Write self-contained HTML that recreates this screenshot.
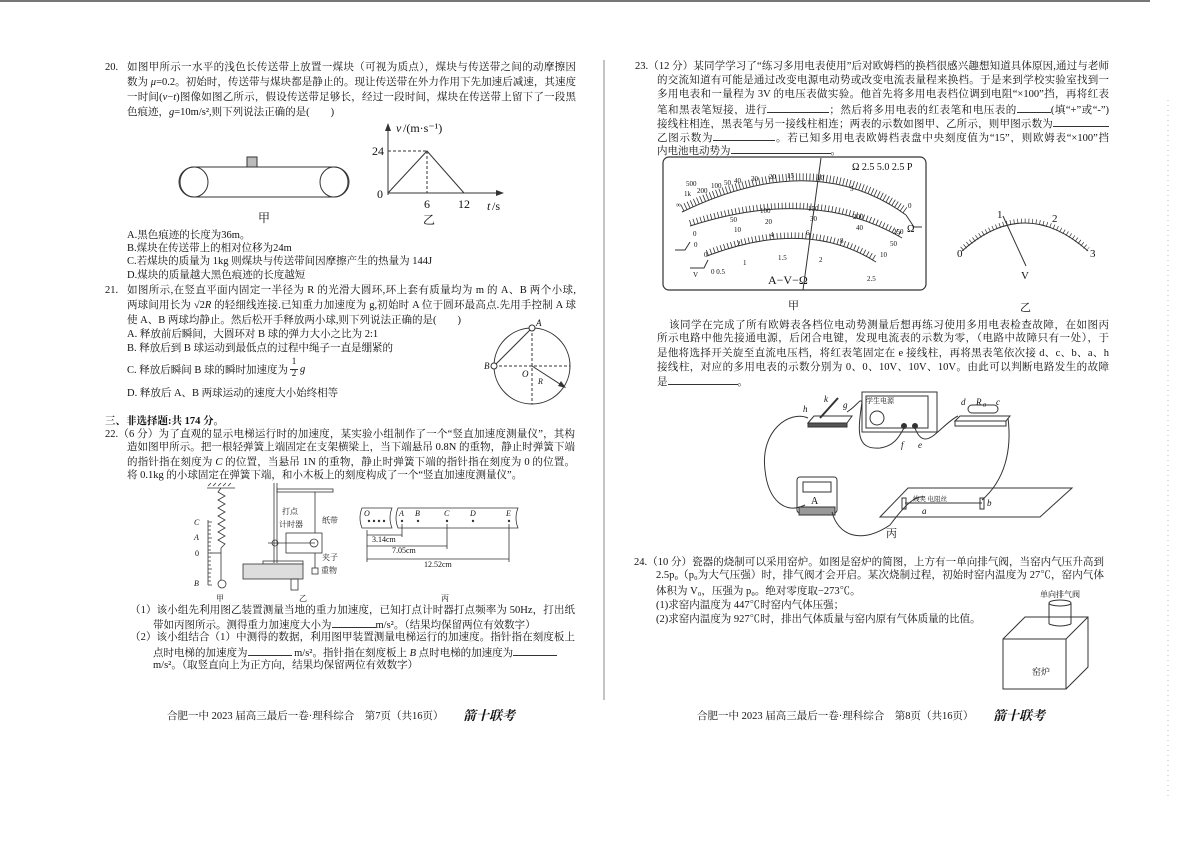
<!DOCTYPE html>
<html><head><meta charset="utf-8">
<style>
html,body{margin:0;padding:0;background:#fff;}
body{width:1200px;height:849px;position:relative;overflow:hidden;font-family:"Liberation Serif","Noto Serif CJK SC","Noto Sans CJK SC",serif;color:#111;}
.l{position:absolute;font-size:10.5px;line-height:13px;height:13px;white-space:nowrap;}
.j{text-align:justify;text-align-last:justify;white-space:normal;overflow:hidden;}
.u{display:inline-block;border-bottom:1px solid #333;height:10px;vertical-align:baseline;}
svg{position:absolute;left:0;top:0;}
svg text{font-family:"Liberation Serif","Noto Serif CJK SC",serif;fill:#111;}
.b{font-weight:bold;}
.ft{font-family:"Liberation Serif","Noto Serif CJK SC",serif;font-weight:bold;font-style:italic;font-size:13px;}
</style></head><body>

<svg width="1200" height="849" viewBox="0 0 1200 849">
<line x1="0" y1="1" x2="1150" y2="1" stroke="#777" stroke-width="2"/>
<line x1="604" y1="60" x2="604" y2="700" stroke="#888" stroke-width="1"/>
<line x1="1168" y1="100" x2="1168" y2="800" stroke="#bbb" stroke-width="1" stroke-dasharray="1 4"/>

<!-- Q20 belt -->
<g fill="none" stroke="#333" stroke-width="1">
<ellipse cx="194" cy="182" rx="14" ry="15"/>
<ellipse cx="334" cy="182" rx="14" ry="15"/>
<line x1="194" y1="167" x2="334" y2="167"/>
<line x1="194" y1="197" x2="334" y2="197"/>
<path d="M194 167 A15 15 0 0 0 194 197"/>
<path d="M334 167 A15 15 0 0 1 334 197"/>
</g>
<rect x="247" y="157" width="10" height="10" fill="#bbb" stroke="#333"/>
<text x="258" y="222" font-size="12">甲</text>
<g stroke="#333" fill="none" stroke-width="1">
<line x1="388" y1="195" x2="388" y2="127"/>
<line x1="388" y1="193" x2="500" y2="193"/>
<polyline points="388,193 427,151 464,193"/>
<line x1="388" y1="151" x2="427" y2="151" stroke-dasharray="3 2"/>
<line x1="427" y1="151" x2="427" y2="193" stroke-dasharray="3 2"/>
</g>
<polygon points="388,123 385,131 391,131" fill="#333"/>
<polygon points="504,193 496,190 496,196" fill="#333"/>
<text x="396" y="132" font-size="12" font-style="italic">v</text><text x="403" y="132" font-size="12">/(m·s⁻¹)</text>
<text x="372" y="155" font-size="12">24</text>
<text x="377" y="198" font-size="12">0</text>
<text x="424" y="208" font-size="12">6</text>
<text x="458" y="208" font-size="12">12</text>
<text x="487" y="210" font-size="12" font-style="italic">t</text><text x="492" y="210" font-size="12">/s</text>
<text x="423" y="224" font-size="12">乙</text>

<!-- Q21 circle -->
<g stroke="#333" fill="none" stroke-width="1">
<circle cx="532" cy="366" r="38"/>
<line x1="532" y1="328" x2="532" y2="404" stroke-dasharray="3 2"/>
<line x1="494" y1="366" x2="570" y2="366" stroke-dasharray="3 2"/>
<line x1="532" y1="328" x2="494" y2="366"/>
<line x1="532" y1="366" x2="563" y2="386"/>
</g>
<circle cx="532" cy="328" r="3" fill="#fff" stroke="#333"/>
<circle cx="494" cy="366" r="3" fill="#fff" stroke="#333"/>
<polygon points="566,388 558,386 561,381" fill="#333"/>
<text x="536" y="326" font-size="9" font-style="italic">A</text>
<text x="484" y="369" font-size="9" font-style="italic">B</text>
<text x="522" y="377" font-size="9" font-style="italic">O</text>
<text x="538" y="384" font-size="8" font-style="italic">R</text>

<!-- Q22 figures -->
<g stroke="#333" fill="none" stroke-width="0.8">
<line x1="207" y1="488" x2="235" y2="488"/>
<path d="M208 486 l3 -3 M213 486 l3 -3 M218 486 l3 -3 M223 486 l3 -3 M228 486 l3 -3"/>
<polyline points="221,488 218,492 225,496 218,500 225,504 218,508 225,512 218,516 225,520 218,524 225,528 218,532 225,536 218,540 225,544 221,548 221,580"/>
<line x1="208" y1="520" x2="208" y2="585"/>
<path d="M208 522 h4 M208 526 h3 M208 530 h3 M208 534 h3 M208 538 h4 M208 542 h3 M208 546 h3 M208 550 h3 M208 553 h4 M208 557 h3 M208 561 h3 M208 565 h3 M208 569 h4 M208 573 h3 M208 577 h3 M208 581 h3 M208 585 h4"/>
<line x1="221" y1="553" x2="210" y2="553"/>
<circle cx="222" cy="584" r="4"/>
<line x1="274" y1="483" x2="274" y2="563"/><line x1="277" y1="483" x2="277" y2="563"/>
<rect x="277" y="489" width="56" height="3"/>
<line x1="315" y1="492" x2="315" y2="533"/>
<rect x="286" y="533" width="36" height="20"/>
<line x1="268" y1="543" x2="315" y2="543"/>
<circle cx="275" cy="543" r="3"/>
<circle cx="314" cy="543" r="4"/>
<line x1="315" y1="553" x2="315" y2="568"/>
<rect x="312" y="568" width="6" height="6"/>
<rect x="263" y="561" width="40" height="3"/>
<rect x="243" y="564" width="60" height="15" fill="#ddd"/>
<rect x="291" y="579" width="7" height="11"/>
<path d="M362 508 h30 q-4 10 0 20 h-30 q-4 -10 0 -20z"/>
<path d="M398 508 h120 q-4 10 0 20 h-120 q-4 -10 0 -20z"/>
<line x1="367" y1="530" x2="367" y2="562"/>
<line x1="402" y1="524" x2="402" y2="537"/>
<line x1="447" y1="524" x2="447" y2="549"/>
<line x1="509" y1="524" x2="509" y2="562"/>
<line x1="367" y1="535" x2="402" y2="535"/>
<line x1="367" y1="546" x2="447" y2="546"/>
<line x1="367" y1="559" x2="509" y2="559"/>
</g>
<g fill="#333">
<circle cx="369" cy="521" r="1.2"/><circle cx="374" cy="521" r="1.2"/><circle cx="379" cy="521" r="1.2"/><circle cx="384" cy="521" r="1.2"/>
<circle cx="402" cy="521" r="1.2"/><circle cx="418" cy="521" r="1.2"/><circle cx="447" cy="521" r="1.2"/><circle cx="473" cy="521" r="1.2"/><circle cx="509" cy="521" r="1.2"/>
</g>
<g font-size="8" font-style="italic">
<text x="194" y="525">C</text><text x="194" y="540">A</text><text x="195" y="556" font-style="normal">0</text><text x="194" y="586">B</text>
<text x="364" y="516">O</text><text x="399" y="516">A</text><text x="415" y="516">B</text><text x="444" y="516">C</text><text x="470" y="516">D</text><text x="506" y="516">E</text>
</g>
<g font-size="8">
<text x="282" y="514">打点</text><text x="279" y="527">计时器</text><text x="322" y="523">纸带</text><text x="322" y="560">夹子</text><text x="321" y="573">重物</text>
<text x="372" y="542">3.14cm</text><text x="392" y="553">7.05cm</text><text x="424" y="567">12.52cm</text>
<text x="216" y="601">甲</text><text x="299" y="601">乙</text><text x="441" y="601">丙</text>
</g>

<!-- Q23 meter 甲 -->
<rect x="663" y="157" width="263" height="133" rx="6" fill="none" stroke="#333" stroke-width="1.2"/>
<g fill="none" stroke="#333">
<path d="M682 212 Q814 148 906 215" stroke-width="1"/>
<path d="M682 212 Q814 148 906 215" stroke-width="7" stroke-dasharray="0.8 2.6" transform="translate(0,-4)"/>
<path d="M690 226 Q814 186 902 238" stroke-width="1"/>
<path d="M690 226 Q814 186 902 238" stroke-width="6" stroke-dasharray="0.8 2.8" transform="translate(0,-3)"/>
<path d="M707 256 Q807 218 876 262" stroke-width="1"/>
<path d="M707 256 Q807 218 876 262" stroke-width="6" stroke-dasharray="0.8 2.8" transform="translate(0,-3)"/>
<line x1="803" y1="290" x2="821" y2="158" stroke-width="1"/>
<path d="M675 250 h10 l5 -8" stroke-width="1"/>
<path d="M690 268 h14 l4 -8" stroke-width="1"/>
<path d="M906 215 l8 12 h8"/>
</g>
<g font-size="7">
<text x="676" y="207">∞</text><text x="684" y="196">1k</text><text x="686" y="186">500</text><text x="697" y="193">200</text><text x="711" y="188">100</text><text x="724" y="185">50</text><text x="734" y="183">40</text><text x="751" y="181">30</text><text x="769" y="179">20</text><text x="787" y="178">15</text><text x="817" y="180">10</text><text x="850" y="191">5</text><text x="908" y="208">0</text>
<text x="693" y="236">0</text><text x="730" y="222">50</text><text x="760" y="213">100</text><text x="808" y="211">150</text><text x="853" y="219">200</text><text x="893" y="234">250</text>
<text x="694" y="247">0</text><text x="734" y="232">10</text><text x="765" y="224">20</text><text x="810" y="221">30</text><text x="856" y="230">40</text><text x="890" y="246">50</text>
<text x="704" y="257">0</text><text x="737" y="246">2</text><text x="770" y="237">4</text><text x="806" y="235">6</text><text x="840" y="243">8</text><text x="880" y="257">10</text>
<text x="711" y="274">0 0.5</text><text x="743" y="265">1</text><text x="778" y="260">1.5</text><text x="819" y="262">2</text><text x="867" y="281">2.5</text>
<text x="693" y="277">V</text>
</g>
<text x="852" y="170" font-size="10">Ω 2.5 5.0 2.5 P</text>
<text x="907" y="232" font-size="10">Ω</text>
<text x="768" y="284" font-size="12">A−V−Ω</text>
<text x="788" y="309" font-size="11">甲</text>
<!-- meter 乙 -->
<path d="M962 251 Q1025 195 1088 251" fill="none" stroke="#333"/>
<path d="M962 251 Q1025 195 1088 251" fill="none" stroke="#333" stroke-width="5" stroke-dasharray="0.7 3" transform="translate(0,-2)"/>
<line x1="1003" y1="216" x2="1026" y2="266" stroke="#333"/>
<text x="957" y="257" font-size="11">0</text><text x="997" y="218" font-size="11">1</text><text x="1052" y="222" font-size="11">2</text><text x="1090" y="257" font-size="11">3</text>
<text x="1021" y="279" font-size="11">V</text>
<text x="1020" y="311" font-size="11">乙</text>

<!-- circuit 丙 -->
<g fill="none" stroke="#333" stroke-width="1">
<path d="M808 423 l6 -7 h38 l-5 7z"/>
<rect x="808" y="423" width="39" height="4" fill="#555"/>
<line x1="820" y1="418" x2="838" y2="398" stroke-width="2"/>
<rect x="862" y="392" width="75" height="40"/>
<rect x="866" y="396" width="62" height="32"/>
<circle cx="877" cy="418" r="7"/>
<circle cx="904" cy="426" r="2.5" fill="#333"/><circle cx="915" cy="426" r="2.5" fill="#333"/>
<path d="M955 421 l5 -5 h50 l-4 5z"/>
<rect x="955" y="421" width="51" height="5"/>
<rect x="968" y="405" width="30" height="8" rx="4"/>
<rect x="797" y="477" width="40" height="36" rx="3"/>
<rect x="803" y="482" width="28" height="10"/>
<rect x="799" y="507" width="36" height="8" fill="#999"/>
<path d="M880 517 l28 -29 h164 l-32 29z"/>
<line x1="905" y1="503" x2="982" y2="503"/>
<rect x="902" y="498" width="4" height="11"/><rect x="980" y="498" width="4" height="11"/>
<path d="M808 418 C790 410 760 430 765 470 C768 500 785 515 805 505"/>
<path d="M847 412 C858 405 860 398 862 402 C858 430 855 450 880 448 C895 446 900 435 904 428"/>
<path d="M915 428 C925 455 940 425 958 416"/>
<path d="M1008 418 C1012 450 1005 480 982 500"/>
<path d="M832 512 C838 535 860 545 890 525 C905 505 915 495 925 497"/>
</g>
<g font-size="9" font-style="italic">
<text x="803" y="412">h</text><text x="824" y="402">k</text><text x="843" y="408">g</text>
<text x="961" y="405">d</text><text x="976" y="405">R</text><text x="983" y="407" font-size="6">0</text><text x="996" y="405">c</text>
<text x="901" y="448">f</text><text x="918" y="448">e</text>
<text x="922" y="514">a</text><text x="987" y="506">b</text>
</g>
<text x="866" y="403" font-size="7">学生电源</text>
<text x="811" y="504" font-size="10">A</text>
<text x="913" y="501" font-size="6.5">线夹 电阻丝</text>
<text x="886" y="537" font-size="11">丙</text>

<!-- kiln -->
<g fill="none" stroke="#333" stroke-width="1">
<rect x="1003" y="639" width="63" height="50"/>
<polyline points="1003,639 1025,617 1088,617 1088,667 1066,689"/>
<line x1="1066" y1="639" x2="1088" y2="617"/>
<ellipse cx="1060" cy="603" rx="11" ry="3"/>
<line x1="1049" y1="603" x2="1049" y2="624"/><line x1="1071" y1="603" x2="1071" y2="624"/>
<path d="M1049 624 Q1060 628 1071 624"/>
</g>
<text x="1040" y="597" font-size="8">单向排气阀</text>
<text x="1032" y="675" font-size="9">窑炉</text>
</svg>

<!-- LEFT PAGE TEXT -->
<div class="l" style="left:105px;top:61px">20.</div>
<div class="l j" style="left:127px;top:61px;width:449px">如图甲所示一水平的浅色长传送带上放置一煤块（可视为质点），煤块与传送带之间的动摩擦因</div>
<div class="l j" style="left:127px;top:76px;width:449px">数为 <i>μ</i>=0.2。初始时，传送带与煤块都是静止的。现让传送带在外力作用下先加速后减速，其速度</div>
<div class="l j" style="left:127px;top:91px;width:449px">一时间(<i>v</i>−<i>t</i>)图像如图乙所示，假设传送带足够长，经过一段时间，煤块在传送带上留下了一段黑</div>
<div class="l" style="left:127px;top:106px">色痕迹，<i>g</i>=10m/s²,则下列说法正确的是(　　)</div>
<div class="l" style="left:127px;top:229px">A.黑色痕迹的长度为36m。</div>
<div class="l" style="left:127px;top:242px">B.煤块在传送带上的相对位移为24m</div>
<div class="l" style="left:127px;top:255px">C.若煤块的质量为 1kg 则煤块与传送带间因摩擦产生的热量为 144J</div>
<div class="l" style="left:127px;top:269px">D.煤块的质量越大黑色痕迹的长度越短</div>
<div class="l" style="left:105px;top:284px">21.</div>
<div class="l j" style="left:127px;top:284px;width:449px">如图所示,在竖直平面内固定一半径为 R 的光滑大圆环,环上套有质量均为 m 的 A、B 两个小球,</div>
<div class="l j" style="left:127px;top:299px;width:449px">两球间用长为 √2<i>R</i> 的轻细线连接.已知重力加速度为 g,初始时 A 位于圆环最高点.先用手控制 A 球</div>
<div class="l" style="left:127px;top:314px">使 A、B 两球均静止。然后松开手释放两小球,则下列说法正确的是(　　)</div>
<div class="l" style="left:127px;top:328px">A. 释放前后瞬间，大圆环对 B 球的弹力大小之比为 2:1</div>
<div class="l" style="left:127px;top:342px">B. 释放后到 B 球运动到最低点的过程中绳子一直是绷紧的</div>
<div class="l" style="left:127px;top:364px">C. 释放后瞬间 B 球的瞬时加速度为</div>
<div class="l" style="left:290px;top:356px;font-size:9px;line-height:10px;text-align:center;width:8px;border-bottom:1px solid #333">1</div>
<div class="l" style="left:290px;top:368px;font-size:9px;line-height:10px;text-align:center;width:8px">2</div>
<div class="l" style="left:300px;top:363px"><i>g</i></div>
<div class="l" style="left:127px;top:387px">D. 释放后 A、B 两球运动的速度大小始终相等</div>
<div class="l b" style="left:105px;top:415px">三、非选择题:共 174 分。</div>
<div class="l j" style="left:105px;top:428px;width:470px">22.（6 分）为了直观的显示电梯运行时的加速度，某实验小组制作了一个“竖直加速度测量仪”，其构</div>
<div class="l j" style="left:127px;top:441px;width:448px">造如图甲所示。把一根轻弹簧上端固定在支架横梁上，当下端悬吊 0.8N 的重物，静止时弹簧下端</div>
<div class="l j" style="left:127px;top:456px;width:448px">的指针指在刻度为 <i>C</i> 的位置，当悬吊 1N 的重物，静止时弹簧下端的指针指在刻度为 0 的位置。现</div>
<div class="l" style="left:127px;top:469px">将 0.1kg 的小球固定在弹簧下端，和小木板上的刻度构成了一个“竖直加速度测量仪”。</div>
<div class="l j" style="left:130px;top:604px;width:445px">（1）该小组先利用图乙装置测量当地的重力加速度，已知打点计时器打点频率为 50Hz，打出纸</div>
<div class="l" style="left:153px;top:617px">带如丙图所示。测得重力加速度大小为<span class="u" style="width:44px"></span>m/s²。（结果均保留两位有效数字）</div>
<div class="l j" style="left:130px;top:631px;width:445px">（2）该小组结合（1）中测得的数据，利用图甲装置测量电梯运行的加速度。指针指在刻度板上 <i>A</i></div>
<div class="l" style="left:153px;top:645px">点时电梯的加速度为<span class="u" style="width:44px"></span> m/s²。指针指在刻度板上 <i>B</i> 点时电梯的加速度为<span class="u" style="width:44px"></span></div>
<div class="l" style="left:153px;top:659px">m/s²。（取竖直向上为正方向，结果均保留两位有效数字）</div>
<div class="l" style="left:167px;top:710px;font-size:10.5px">合肥一中 2023 届高三最后一卷·理科综合　第7页（共16页）</div>
<div class="l ft" style="left:463px;top:709px">箭十联考</div>

<!-- RIGHT PAGE TEXT -->
<div class="l j" style="left:635px;top:60px;width:474px">23.（12 分）某同学学习了“练习多用电表使用”后对欧姆档的换档很感兴趣想知道具体原因,通过与老师</div>
<div class="l j" style="left:657px;top:74px;width:452px">的交流知道有可能是通过改变电源电动势或改变电流表量程来换档。于是来到学校实验室找到一</div>
<div class="l j" style="left:657px;top:88px;width:452px">多用电表和一量程为 3V 的电压表做实验。他首先将多用电表档位调到电阻“×100”挡，再将红表</div>
<div class="l j" style="left:657px;top:102px;width:452px">笔和黑表笔短接，进行<span class="u" style="width:62px"></span>；然后将多用电表的红表笔和电压表的<span class="u" style="width:34px"></span>(填“+”或“-”)</div>
<div class="l j" style="left:657px;top:116px;width:452px">接线柱相连，黑表笔与另一接线柱相连；两表的示数如图甲、乙所示，则甲图示数为<span class="u" style="width:56px"></span>，</div>
<div class="l j" style="left:657px;top:130px;width:452px">乙图示数为<span class="u" style="width:62px"></span>。若已知多用电表欧姆档表盘中央刻度值为“15”，则欧姆表“×100”挡</div>
<div class="l" style="left:657px;top:143px">内电池电动势为<span class="u" style="width:100px"></span>。</div>
<div class="l j" style="left:669px;top:319px;width:440px">该同学在完成了所有欧姆表各档位电动势测量后想再练习使用多用电表检查故障，在如图丙</div>
<div class="l j" style="left:657px;top:332px;width:452px">所示电路中他先接通电源，后闭合电键，发现电流表的示数为零，（电路中故障只有一处），于</div>
<div class="l j" style="left:657px;top:347px;width:452px">是他将选择开关旋至直流电压档，将红表笔固定在 e 接线柱，再将黑表笔依次接 d、c、b、a、h</div>
<div class="l j" style="left:657px;top:361px;width:452px">接线柱，对应的多用电表的示数分别为 0、0、10V、10V、10V。由此可以判断电路发生的故障</div>
<div class="l" style="left:657px;top:374px">是<span class="u" style="width:70px"></span>。</div>
<div class="l j" style="left:634px;top:556px;width:470px">24.（10 分）瓷器的烧制可以采用窑炉。如图是窑炉的简图，上方有一单向排气阀，当窑内气压升高到</div>
<div class="l j" style="left:656px;top:569px;width:448px">2.5p₀（p₀为大气压强）时，排气阀才会开启。某次烧制过程，初始时窑内温度为 27℃，窑内气体</div>
<div class="l" style="left:656px;top:585px">体积为 V₀，压强为 p₀。绝对零度取−273℃。</div>
<div class="l" style="left:656px;top:599px">(1)求窑内温度为 447℃时窑内气体压强；</div>
<div class="l" style="left:656px;top:613px">(2)求窑内温度为 927℃时，排出气体质量与窑内原有气体质量的比值。</div>
<div class="l" style="left:697px;top:710px">合肥一中 2023 届高三最后一卷·理科综合　第8页（共16页）</div>
<div class="l ft" style="left:993px;top:709px">箭十联考</div>
</body></html>
